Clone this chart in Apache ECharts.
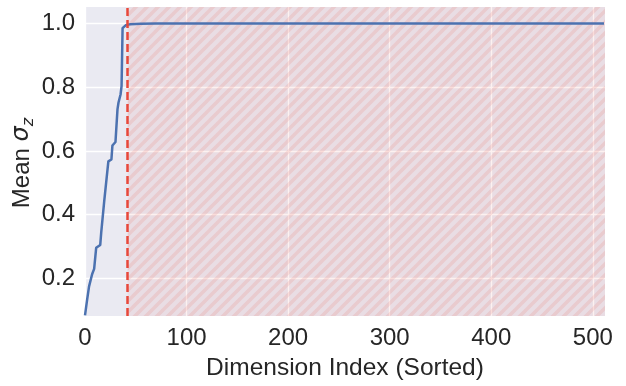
<!DOCTYPE html>
<html>
<head>
<meta charset="utf-8">
<script src="https://cdn.jsdelivr.net/npm/echarts@6/dist/echarts.min.js"></script>
<style>
  html, body { margin: 0; padding: 0; background: #ffffff; }
  #chart { width: 626px; height: 386px; }
</style>
</head>
<body>
<div id="chart"></div>
<script>
// Sorted mean posterior std per latent dimension
const dimIndex = [0, 2, 3, 4, 7, 9, 11, 15, 16, 19, 23, 26, 27, 30, 32, 33, 35, 36, 37, 40, 44, 55, 70, 511];
const meanSigma = [0.084, 0.131, 0.137, 0.175, 0.213, 0.230, 0.296, 0.305, 0.345, 0.445, 0.567, 0.573, 0.617, 0.628, 0.731, 0.752, 0.777, 0.803, 0.985, 0.994, 0.997, 0.999, 1.0, 1.0];

// Cut-off between active and collapsed dimensions
const activeCutoff = 42;
const xExtent = [0, 512];
const yExtent = [0.082, 1.0515];
const xTicks = [0, 100, 200, 300, 400, 500];
const yTicks = [0.2, 0.4, 0.6, 0.8, 1.0];

const textColor = '#262626';
const fontFamily = '"Liberation Sans", Arial, sans-serif';

// Diagonal hatch tile for the collapsed region
function hatchPattern() {
  const s = 11;
  const c = document.createElement('canvas');
  c.width = s; c.height = s;
  const g = c.getContext('2d');
  g.fillStyle = 'rgba(231, 76, 60, 0.08)';
  g.fillRect(0, 0, s, s);
  g.strokeStyle = 'rgba(231, 76, 60, 0.13)';
  g.lineWidth = 3.5;
  g.beginPath();
  g.moveTo(-2, s + 2); g.lineTo(s + 2, -2);
  g.moveTo(-2, 2); g.lineTo(2, -2);
  g.moveTo(s - 2, s + 2); g.lineTo(s + 2, s - 2);
  g.stroke();
  return c;
}

const points = dimIndex.map((d, i) => [d, meanSigma[i]]);

const chart = echarts.init(document.getElementById('chart'), null, { renderer: 'canvas' });

chart.setOption({
  animation: false,
  backgroundColor: '#ffffff',
  grid: {
    left: 85, right: 21, top: 7, bottom: 67,
    show: true, backgroundColor: '#EAEAF2', borderWidth: 0
  },
  xAxis: {
    type: 'value',
    min: xExtent[0], max: xExtent[1],
    name: 'Dimension Index (Sorted)',
    nameLocation: 'middle',
    nameGap: 40,
    nameTextStyle: { fontSize: 24.5, color: textColor, fontFamily: fontFamily },
    axisLine: { show: false },
    axisTick: { show: false, customValues: xTicks },
    axisLabel: { customValues: xTicks, fontSize: 24, color: textColor, fontFamily: fontFamily, margin: 10 },
    splitLine: { show: true, lineStyle: { color: '#ffffff', width: 1.3 } }
  },
  yAxis: {
    type: 'value',
    min: yExtent[0], max: yExtent[1],
    axisLine: { show: false },
    axisTick: { show: false, customValues: yTicks },
    axisLabel: {
      customValues: yTicks, fontSize: 24, color: textColor, fontFamily: fontFamily, margin: 10,
      formatter: v => v.toFixed(1)
    },
    splitLine: { show: true, lineStyle: { color: '#ffffff', width: 1.3 } }
  },
  graphic: [{
    type: 'text',
    x: 22, y: 163,
    rotation: Math.PI / 2,
    style: {
      text: '{m|Mean }{s|σ}{z|z}',
      align: 'center',
      verticalAlign: 'middle',
      fill: textColor,
      rich: {
        m: { fontSize: 24, fontFamily: fontFamily, fill: textColor, lineHeight: 30, verticalAlign: 'middle' },
        s: { fontSize: 24, fontFamily: '"DejaVu Sans", sans-serif', fontStyle: 'italic', fill: textColor, lineHeight: 30, verticalAlign: 'middle' },
        z: { fontSize: 16, fontFamily: '"DejaVu Sans", sans-serif', fontStyle: 'italic', fill: textColor, lineHeight: 16, verticalAlign: 'bottom' }
      }
    }
  }],
  series: [
    {
      // collapsed-dimension region
      type: 'line',
      data: [],
      z: 1,
      silent: true,
      markArea: {
        silent: true,
        itemStyle: { color: { image: hatchPattern(), repeat: 'repeat' } },
        data: [[{ xAxis: activeCutoff }, { xAxis: xExtent[1] }]]
      }
    },
    {
      type: 'line',
      data: [],
      z: 2,
      silent: true,
      markLine: {
        silent: true,
        symbol: ['none', 'none'],
        label: { show: false },
        lineStyle: { color: '#e8473a', width: 2.5, type: [8, 4] },
        data: [{ xAxis: activeCutoff }]
      }
    },
    {
      type: 'line',
      data: points,
      z: 3,
      symbol: 'none',
      clip: true,
      lineStyle: { color: '#4C72B0', width: 2.5, join: 'round' }
    }
  ]
});
</script>
</body>
</html>
